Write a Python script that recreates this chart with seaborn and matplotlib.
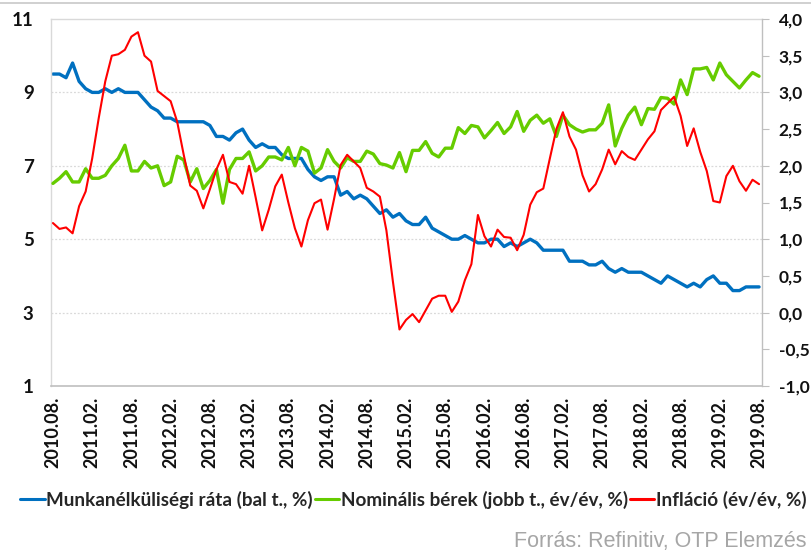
import numpy as np
import pandas as pd
import matplotlib
matplotlib.use("Agg")
import matplotlib.pyplot as plt
import seaborn as sns
from matplotlib.lines import Line2D

# ---- data (monthly, 2010.08 - 2019.08) ----
unemployment = [9.5, 9.5, 9.4, 9.8, 9.3,
                9.1, 9.0, 9.0, 9.1, 9.0, 9.1, 9.0, 9.0, 9.0, 8.8, 8.6, 8.5,
                8.3, 8.3, 8.2, 8.2, 8.2, 8.2, 8.2, 8.1, 7.8, 7.8, 7.7, 7.9,
                8.0, 7.7, 7.5, 7.6, 7.5, 7.5, 7.3, 7.2, 7.2, 7.2, 6.9, 6.7,
                6.6, 6.7, 6.7, 6.2, 6.3, 6.1, 6.2, 6.1, 5.9, 5.7, 5.8, 5.6,
                5.7, 5.5, 5.4, 5.4, 5.6, 5.3, 5.2, 5.1, 5.0, 5.0, 5.1, 5.0,
                4.9, 4.9, 5.0, 5.0, 4.8, 4.9, 4.8, 4.9, 5.0, 4.9, 4.7, 4.7,
                4.7, 4.7, 4.4, 4.4, 4.4, 4.3, 4.3, 4.4, 4.2, 4.1, 4.2, 4.1,
                4.1, 4.1, 4.0, 3.9, 3.8, 4.0, 3.9, 3.8, 3.7, 3.8, 3.7, 3.9,
                4.0, 3.8, 3.8, 3.6, 3.6, 3.7, 3.7, 3.7]

wages = [1.76, 1.83, 1.92, 1.78, 1.78,
         1.96, 1.83, 1.83, 1.87, 2.00, 2.10, 2.28, 1.93, 1.93, 2.06, 1.97, 2.00,
         1.73, 1.78, 2.13, 2.08, 1.78, 1.96, 1.69, 1.80, 1.95, 1.49, 1.95, 2.10,
         2.10, 2.19, 1.93, 2.00, 2.12, 2.12, 2.08, 2.25, 2.00, 2.25, 2.20, 1.90,
         1.97, 2.22, 2.06, 1.97, 2.11, 2.06, 2.06, 2.20, 2.16, 2.03, 2.01, 1.97,
         2.18, 1.92, 2.21, 2.21, 2.33, 2.17, 2.12, 2.24, 2.24, 2.52, 2.44, 2.55,
         2.53, 2.38, 2.48, 2.59, 2.44, 2.53, 2.74, 2.47, 2.62, 2.69, 2.58, 2.64,
         2.40, 2.69, 2.56, 2.50, 2.46, 2.49, 2.49, 2.58, 2.83, 2.27, 2.51, 2.69,
         2.80, 2.56, 2.78, 2.77, 2.93, 2.92, 2.84, 3.17, 2.97, 3.32, 3.32, 3.34,
         3.17, 3.40, 3.24, 3.15, 3.06, 3.17, 3.27, 3.22]

inflation = [1.22, 1.14, 1.16, 1.08, 1.45,
             1.65, 2.10, 2.65, 3.15, 3.50, 3.52, 3.58, 3.76, 3.82, 3.50, 3.42, 3.02,
             2.95, 2.88, 2.60, 2.15, 1.73, 1.66, 1.42, 1.68, 1.95, 2.15, 1.78, 1.75,
             1.62, 2.00, 1.57, 1.12, 1.40, 1.72, 1.88, 1.50, 1.15, 0.90, 1.26, 1.49,
             1.54, 1.13, 1.55, 2.01, 2.15, 2.06, 1.97, 1.70, 1.65, 1.58, 1.12, 0.42,
             -0.23, -0.10, -0.02, -0.13, 0.03, 0.19, 0.23, 0.23, 0.01, 0.15, 0.44, 0.66,
             1.33, 1.04, 0.90, 1.13, 1.03, 1.02, 0.85, 1.06, 1.47, 1.64, 1.69, 2.10,
             2.50, 2.73, 2.40, 2.22, 1.87, 1.65, 1.75, 1.95, 2.22, 2.02, 2.20, 2.12,
             2.08, 2.22, 2.36, 2.47, 2.76, 2.85, 2.94, 2.68, 2.27, 2.51, 2.19, 1.93,
             1.52, 1.50, 1.86, 2.00, 1.79, 1.66, 1.81, 1.75]

x_tick_labels = ["2010.08.", "2011.02.", "2011.08.", "2012.02.", "2012.08.",
                 "2013.02.", "2013.08.", "2014.02.", "2014.08.", "2015.02.",
                 "2015.08.", "2016.02.", "2016.08.", "2017.02.", "2017.08.",
                 "2018.02.", "2018.08.", "2019.02.", "2019.08."]
left_ticks = [1, 3, 5, 7, 9, 11]
right_ticks = [-1.0, -0.5, 0.0, 0.5, 1.0, 1.5, 2.0, 2.5, 3.0, 3.5, 4.0]

series_names = ["Munkanélküliségi ráta (bal t., %)",
                "Nominális bérek (jobb t., év/év, %)",
                "Infláció (év/év, %)"]
source_text = "Forrás: Refinitiv, OTP Elemzés"

# ---- style ----
sns.set_theme(style="white")
plt.rcParams['font.family'] = ['Lato', 'DejaVu Sans']

BLUE = "#0070C0"
GREEN = "#66CC00"
RED = "#FF0000"
TXT = "#111111"

df = pd.DataFrame({"idx": np.arange(len(unemployment)),
                   "unemployment": unemployment,
                   "wages": wages,
                   "inflation": inflation})

W, H = 812, 552
fig = plt.figure(figsize=(W / 100, H / 100), dpi=100)
L, R, T, B = 51, 762, 19, 386
ax = fig.add_axes([L / W, 1 - B / H, (R - L) / W, (B - T) / H])
ax2 = ax.twinx()

sns.lineplot(data=df, x="idx", y="unemployment", ax=ax, color=BLUE,
             linewidth=2.4, legend=False)
sns.lineplot(data=df, x="idx", y="wages", ax=ax2, color=GREEN,
             linewidth=2.4, legend=False)
sns.lineplot(data=df, x="idx", y="inflation", ax=ax2, color=RED,
             linewidth=1.5, legend=False)

n = len(unemployment)
ax.set_xlim(-0.3, n - 1 + 0.45)
ax.set_ylim(1, 11)
ax2.set_ylim(-1.0, 4.0)

ax.set_xticks(np.arange(0, n, 6))
ax.set_xticklabels(x_tick_labels, rotation=90, fontweight="bold",
                   fontsize=13, color=TXT)
ax.set_yticks(left_ticks)
ax.set_yticklabels([str(t) for t in left_ticks], fontweight="bold",
                   fontsize=13.5, color=TXT)
ax2.set_yticks(right_ticks)
ax2.set_yticklabels([f"{t:.1f}".replace(".", ",") for t in right_ticks],
                    fontweight="bold", fontsize=12.5, color=TXT)

ax.set_xlabel("")
ax.set_ylabel("")
ax2.set_ylabel("")

ax.tick_params(axis="x", length=0, pad=8)
ax.tick_params(axis="y", length=0, pad=12.5)
ax2.tick_params(axis="y", length=5, width=0.8, color="#bfbfbf", pad=7,
                direction="out")

ax.grid(False)
ax2.grid(False)
for yv in left_ticks[1:-1]:
    ax.axhline(yv, color="#d9d9d9", linewidth=0.9, linestyle=(0, (1.5, 1.5)),
               zorder=0)

for a in (ax, ax2):
    for s in a.spines.values():
        s.set_visible(False)
ax.spines["left"].set_visible(True)
ax.spines["left"].set_color("#d9d9d9")
ax.spines["left"].set_linewidth(1.0)
ax.spines["top"].set_visible(True)
ax.spines["top"].set_color("#d9d9d9")
ax.spines["top"].set_linewidth(1.0)
ax.spines["bottom"].set_visible(True)
ax.spines["bottom"].set_color("#bfbfbf")
ax.spines["bottom"].set_linewidth(1.2)
ax2.spines["right"].set_visible(True)
ax2.spines["right"].set_color("#bfbfbf")
ax2.spines["right"].set_linewidth(1.0)

# legend
handles = [Line2D([], [], color=BLUE, linewidth=2.2),
           Line2D([], [], color=GREEN, linewidth=2.2),
           Line2D([], [], color=RED, linewidth=2.2)]
fig.legend(handles, series_names, loc="center left",
           bbox_to_anchor=(20 / W, 1 - 500 / H), ncol=3, frameon=False,
           handlelength=1.3, handletextpad=0.08, columnspacing=0.1,
           borderpad=0, borderaxespad=0,
           prop={"weight": "bold", "size": 13.6})

fig.text(807 / W, 1 - 542 / H, source_text, ha="right", va="center",
         fontsize=15.5, color="#a6a6a6", family="Liberation Sans")

# thin frame line at the very top of the image
fig.add_artist(Line2D([0, 1], [1 - 2.5 / H, 1 - 2.5 / H], color="#c8c8c8",
                      linewidth=1.2, transform=fig.transFigure))

fig.savefig("out.png", dpi=100)
